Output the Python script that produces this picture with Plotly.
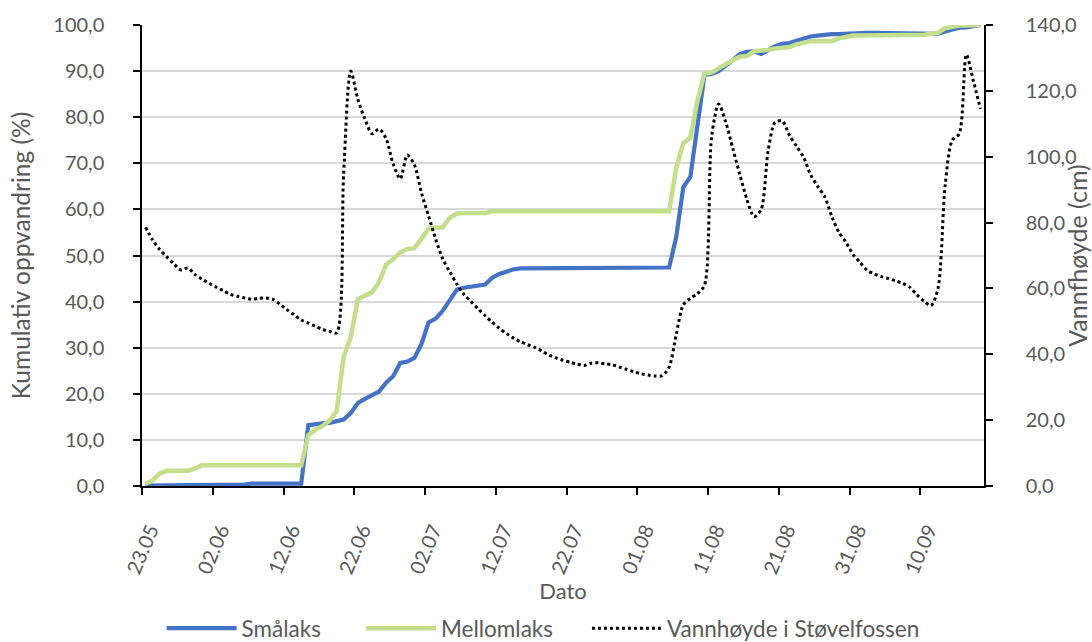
import pandas as pd
import plotly.graph_objects as go

# ---- data -------------------------------------------------------------
start_date = "2019-05-23"
n_days = 119
dates = pd.date_range(start_date, periods=n_days, freq="D")

smalaks = [
    0.1, 0.1, 0.1, 0.1, 0.1, 0.1, 0.1, 0.1, 0.1, 0.1,
    0.1, 0.1, 0.1, 0.1, 0.3, 0.5, 0.5, 0.5, 0.5, 0.5,
    0.5, 0.5, 0.5, 13.2, 13.5, 13.6, 13.7, 14.0, 14.4, 15.8,
    18.0, 18.9, 19.8, 20.5, 22.4, 23.8, 26.7, 27.0, 27.8, 30.8,
    35.5, 36.3, 38.0, 40.2, 42.6, 43.0, 43.2, 43.4, 43.7, 45.2,
    46.0, 46.5, 47.0, 47.2, 47.2, 47.2, 47.2, 47.2, 47.2, 47.2,
    47.2, 47.2, 47.2, 47.2, 47.2, 47.2, 47.2, 47.2, 47.2, 47.2,
    47.2, 47.4, 47.4, 47.4, 47.4, 54.0, 64.8, 67.1, 77.8, 89.2,
    89.4, 90.0, 91.2, 92.6, 93.7, 94.2, 94.3, 93.7, 94.5, 95.4,
    95.9, 96.1, 96.6, 97.1, 97.5, 97.7, 97.9, 98.0, 98.0, 98.1,
    98.3, 98.3, 98.3, 98.3, 98.3, 98.3, 98.3, 98.3, 98.3, 98.2,
    98.1, 98.1, 98.1, 98.6, 99.1, 99.4, 99.5, 99.7, 100.0,
]

mellomlaks = [
    0.5, 1.2, 2.7, 3.3, 3.3, 3.3, 3.3, 3.8, 4.5, 4.5,
    4.5, 4.5, 4.5, 4.5, 4.5, 4.5, 4.5, 4.5, 4.5, 4.5,
    4.5, 4.5, 4.5, 11.0, 12.2, 13.0, 14.2, 16.2, 28.0, 32.3,
    40.5, 41.3, 42.0, 44.2, 48.0, 49.2, 50.7, 51.4, 51.6, 53.6,
    55.8, 56.1, 56.1, 58.2, 59.1, 59.2, 59.2, 59.2, 59.2, 59.6,
    59.6, 59.6, 59.6, 59.6, 59.6, 59.6, 59.6, 59.6, 59.6, 59.6,
    59.6, 59.6, 59.6, 59.6, 59.6, 59.6, 59.6, 59.6, 59.6, 59.6,
    59.6, 59.6, 59.6, 59.6, 59.6, 69.0, 74.4, 75.5, 83.6, 89.5,
    89.7, 90.6, 91.6, 92.4, 93.1, 93.3, 94.3, 94.4, 94.6, 94.9,
    95.1, 95.2, 95.8, 96.2, 96.5, 96.5, 96.5, 96.5, 97.1, 97.4,
    97.7, 97.7, 97.7, 97.7, 97.7, 97.7, 97.7, 97.7, 97.7, 97.7,
    97.9, 98.1, 98.3, 99.3, 99.7, 99.9, 99.9, 99.9, 100.0,
]

vannhoyde = [
    78.6, 74.7, 71.8, 69.6, 67.5, 65.6, 66.2, 64.2, 62.8, 61.5,
    60.4, 59.3, 58.2, 57.6, 57.1, 56.7, 57.0, 57.1, 56.7, 55.2,
    53.5, 52.0, 50.4, 49.5, 48.5, 47.6, 47.0, 46.5, 95.0, 126.0,
    117.5, 111.5, 107.0, 108.4, 105.5, 97.8, 93.3, 100.5, 97.5, 89.0,
    82.0, 75.0, 69.0, 65.0, 61.3, 58.2, 56.0, 53.8, 51.7, 49.7,
    47.9, 46.3, 44.9, 43.8, 42.9, 42.1, 41.0, 39.8, 38.9, 38.2,
    37.6, 37.0, 36.6, 37.3, 37.4, 37.1, 36.8, 36.1, 35.4, 34.7,
    34.1, 33.7, 33.4, 33.5, 36.1, 46.0, 55.0, 57.0, 58.4, 61.0,
    106.0, 116.0, 110.5, 102.5, 94.5, 87.0, 81.8, 84.0, 102.0, 110.5,
    110.8, 106.5, 103.2, 99.8, 94.5, 91.0, 87.8, 81.8, 77.0, 74.0,
    70.3, 67.9, 65.5, 64.4, 63.6, 63.0, 62.3, 61.5, 60.4, 58.1,
    56.2, 54.8, 60.0, 91.0, 105.0, 107.0, 131.0, 123.0, 114.5,
]

series_names = ["Smålaks", "Mellomlaks", "Vannhøyde i Støvelfossen"]
left_title = "Kumulativ oppvandring (%)"
right_title = "Vannfhøyde (cm)"
x_title = "Dato"

# ---- figure -------------------------------------------------------------
# each day is drawn in the middle of its day interval
x = dates + pd.Timedelta(hours=12)

FONT = "Lato, 'Open Sans', sans-serif"
GREY = "#595959"

fig = go.Figure()
fig.add_trace(go.Scatter(x=x, y=smalaks, name=series_names[0], mode="lines",
                         legend="legend",
                         line=dict(color="#4472C4", width=4.2)))
fig.add_trace(go.Scatter(x=x, y=mellomlaks, name=series_names[1], mode="lines",
                         legend="legend2",
                         line=dict(color="#C3DF8C", width=4.5)))
fig.add_trace(go.Scatter(x=x, y=vannhoyde, name=series_names[2], mode="lines",
                         yaxis="y2", legend="legend3",
                         line=dict(color="black", width=3, dash="dot",
                                   shape="spline", smoothing=0.8)))

end_date = dates[-1] + pd.Timedelta(days=1)


def legend_box(xpos):
    return dict(orientation="h", xref="container", yref="container",
                x=xpos, xanchor="left", y=0.021, yanchor="middle",
                font=dict(size=22.5, color=GREY), itemwidth=70,
                bgcolor="rgba(0,0,0,0)")


fig.update_layout(
    width=1092, height=642,
    margin=dict(l=142, r=108, t=25, b=156),
    paper_bgcolor="white", plot_bgcolor="white",
    separators=", ",
    font=dict(family=FONT, size=20, color=GREY),
    showlegend=True,
    legend=legend_box(0.148),
    legend2=legend_box(0.3306),
    legend3=legend_box(0.5375),
    xaxis=dict(
        type="date", range=[dates[0], end_date],
        tick0=dates[0], dtick=10 * 24 * 3600 * 1000, tickformat="%d.%m",
        tickangle=-67, showline=True, linecolor="black", linewidth=1.5,
        ticks="outside", ticklen=7, tickcolor="black", tickwidth=1.5,
        showgrid=False, zeroline=False, automargin=False,
        ticklabelstandoff=16, ticklabelshift=8,
        title=dict(text=x_title, font=dict(size=22, color=GREY), standoff=0),
        tickfont=dict(size=20, color=GREY),
    ),
    yaxis=dict(
        range=[0, 100], dtick=10, tickformat=".1f",
        showline=True, linecolor="black", linewidth=1.5,
        ticks="outside", ticklen=7, tickcolor="black", tickwidth=1.5,
        showgrid=True, gridcolor="#D9D9D9", gridwidth=1.5,
        zeroline=False, automargin=False, ticklabelstandoff=25,
        title=dict(text=left_title, font=dict(size=24.5, color=GREY), standoff=16),
        tickfont=dict(size=20, color=GREY),
    ),
    yaxis2=dict(
        range=[0, 140], dtick=20, tickformat=".1f", overlaying="y", side="right",
        showline=True, linecolor="black", linewidth=1.5,
        ticks="outside", ticklen=7, tickcolor="black", tickwidth=1.5,
        showgrid=False, zeroline=False, automargin=False, ticklabelstandoff=29,
        title=dict(text=right_title, font=dict(size=25, color=GREY), standoff=3),
        tickfont=dict(size=20, color=GREY),
    ),
)

fig.write_html("out.html", config={"displayModeBar": False},
               post_script="document.body.style.margin='0';"
                           "document.body.style.padding='0';")
